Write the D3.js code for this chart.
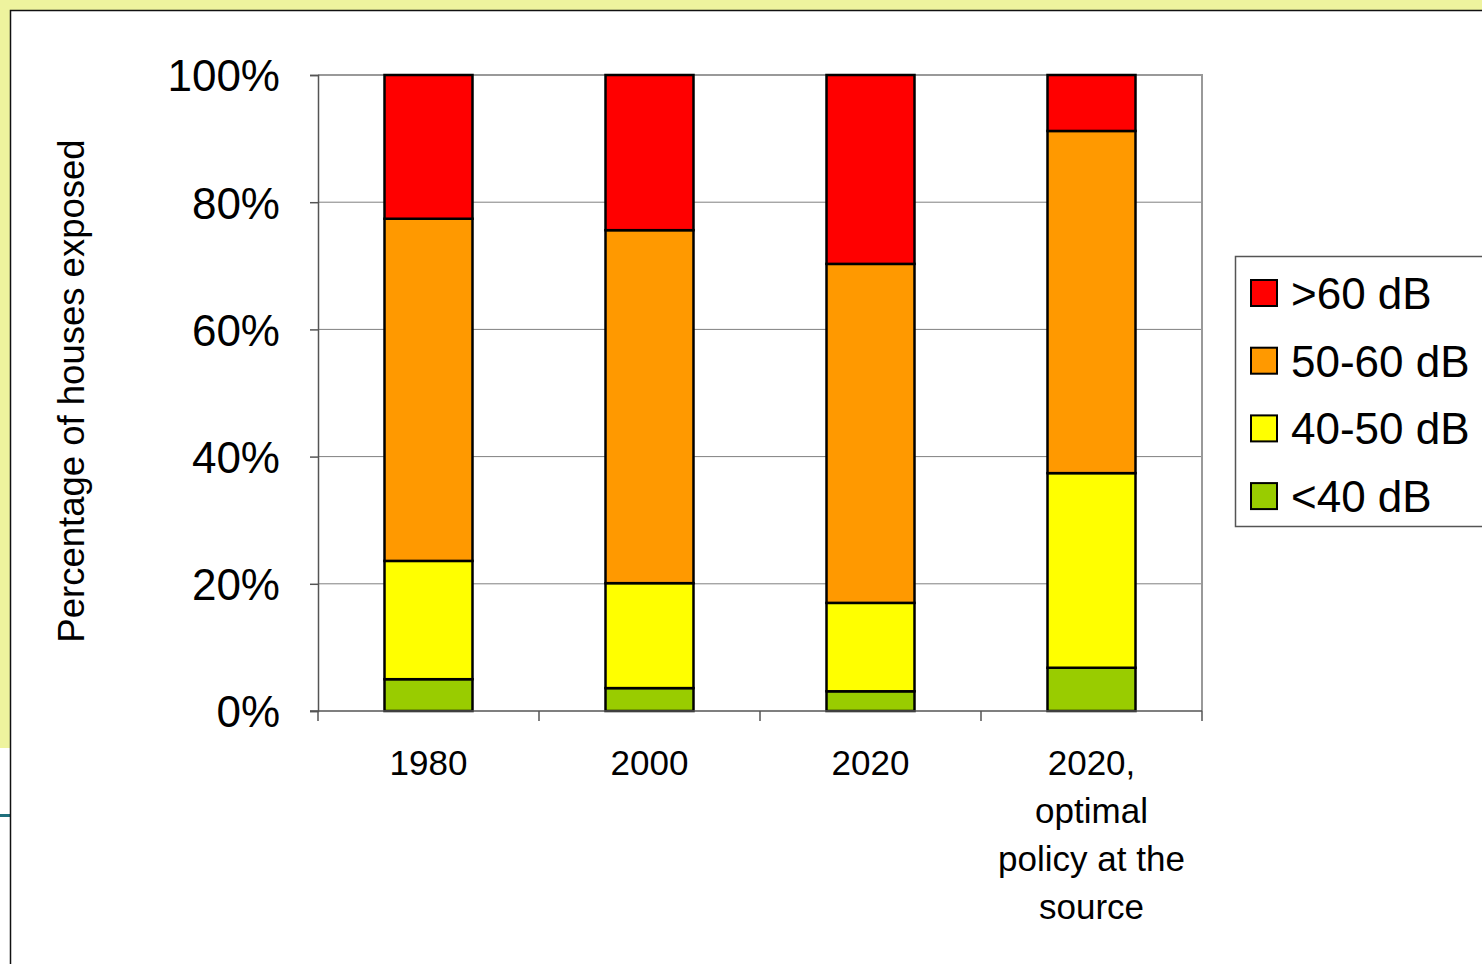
<!DOCTYPE html>
<html>
<head>
<meta charset="utf-8">
<script src="https://cdn.jsdelivr.net/npm/d3@7"></script>
<style>
  body { margin: 0; background: #eef39e; }
  svg { display: block; font-family: "Liberation Sans", Arial, sans-serif; }
</style>
</head>
<body>
<svg id="chart" width="1482" height="964"></svg>
<script>
// categories and stacked values (% of houses), bottom to top
const categories = ["1980", "2000", "2020", "2020, optimal policy at the source"];
const categoryLines = [["1980"], ["2000"], ["2020"], ["2020,", "optimal", "policy at the", "source"]];
const seriesNames = ["<40 dB", "40-50 dB", "50-60 dB", ">60 dB"];
const below40 = [5.0, 3.6, 3.1, 6.8];
const from40to50 = [18.6, 16.5, 13.9, 30.6];
const from50to60 = [53.8, 55.5, 53.3, 53.8];
const above60 = [22.6, 24.4, 29.7, 8.8];
const yTicks = [0, 20, 40, 60, 80, 100];
const colors = ["#99cc00", "#ffff00", "#ff9900", "#ff0000"];

const svg = d3.select("#chart");

// slide background: white panel with dark border
svg.append("rect").attr("x", 0).attr("y", 0).attr("width", 1482).attr("height", 964).attr("fill", "#eef39e");
svg.append("rect").attr("x", 0).attr("y", 748).attr("width", 10).attr("height", 216).attr("fill", "#ffffff");
svg.append("rect").attr("x", 0).attr("y", 814).attr("width", 10).attr("height", 3).attr("fill", "#1f6f7c");
svg.append("rect").attr("x", 10.5).attr("y", 10.5).attr("width", 1480).attr("height", 960)
  .attr("fill", "#ffffff").attr("stroke", "#111").attr("stroke-width", 1.5);

const margin = { left: 318, right: 1202, top: 75, bottom: 711 };

const x = d3.scaleBand().domain(categories).range([margin.left, margin.right]);
const y = d3.scaleLinear().domain([0, 100]).range([margin.bottom, margin.top]);

// gridlines
svg.append("g")
  .selectAll("line")
  .data(yTicks.filter(d => d > 0))
  .join("line")
  .attr("x1", margin.left).attr("x2", margin.right)
  .attr("y1", d => y(d)).attr("y2", d => y(d))
  .attr("stroke", "#808080").attr("stroke-width", 1);

// plot frame top + right
svg.append("path")
  .attr("d", `M${margin.left},${y(100)}H${margin.right}V${y(0)}`)
  .attr("fill", "none").attr("stroke", "#999").attr("stroke-width", 2);

// stacked bars
const rows = categories.map((c, i) => ({
  cat: c,
  "<40 dB": below40[i], "40-50 dB": from40to50[i], "50-60 dB": from50to60[i], ">60 dB": above60[i]
}));
const stacked = d3.stack().keys(seriesNames)(rows);
const barW = 88;

svg.append("g")
  .selectAll("g")
  .data(stacked)
  .join("g")
  .attr("fill", (d, i) => colors[i])
  .selectAll("rect")
  .data(d => d)
  .join("rect")
  .attr("x", d => x(d.data.cat) + x.bandwidth() / 2 - barW / 2)
  .attr("y", d => y(d[1]))
  .attr("width", barW)
  .attr("height", d => y(d[0]) - y(d[1]))
  .attr("stroke", "#000").attr("stroke-width", 2.5);

// y axis
const yAxis = svg.append("g")
  .attr("transform", `translate(${margin.left},0)`)
  .call(d3.axisLeft(y).tickValues(yTicks).tickFormat(d => d + "%").tickSize(8).tickPadding(30));
yAxis.select(".domain").attr("stroke", "#555").attr("stroke-width", 1.5);
yAxis.selectAll(".tick line").attr("stroke", "#555").attr("stroke-width", 1.5);
yAxis.selectAll("text").attr("font-size", 44).attr("fill", "#000")
  .attr("font-family", "'Liberation Sans', Arial, sans-serif").attr("dy", "0.36em");

// x axis
const xAxis = svg.append("g").attr("transform", `translate(0,${margin.bottom})`);
xAxis.append("line").attr("x1", margin.left - 8).attr("x2", margin.right)
  .attr("stroke", "#555").attr("stroke-width", 1.5);
const bounds = categories.map(c => x(c)).concat([margin.right]);
xAxis.selectAll(".xtick")
  .data(bounds)
  .join("line")
  .attr("x1", d => d).attr("x2", d => d)
  .attr("y1", 0).attr("y2", 10)
  .attr("stroke", "#555").attr("stroke-width", 1.5);

const labels = xAxis.selectAll(".xlabel")
  .data(categories)
  .join("text")
  .attr("text-anchor", "middle")
  .attr("font-size", 35)
  .attr("fill", "#000");
labels.each(function(c, i) {
  d3.select(this).selectAll("tspan")
    .data(categoryLines[i])
    .join("tspan")
    .attr("x", x(c) + x.bandwidth() / 2)
    .attr("y", (d, j) => 64 + j * 48)
    .text(d => d);
});

// y axis title
svg.append("text")
  .attr("transform", "translate(84,391) rotate(-90)")
  .attr("text-anchor", "middle")
  .attr("font-size", 36.5)
  .attr("fill", "#000")
  .text("Percentage of houses exposed");

// legend
const legend = svg.append("g");
legend.append("rect")
  .attr("x", 1235.5).attr("y", 256.5).attr("width", 260).attr("height", 270)
  .attr("fill", "#fff").attr("stroke", "#555").attr("stroke-width", 1.5);
const legendOrder = seriesNames.slice().reverse();
const items = legend.selectAll(".item")
  .data(legendOrder)
  .join("g")
  .attr("transform", (d, i) => `translate(1251,${293 + i * 67.7})`);
items.append("rect")
  .attr("x", 0).attr("y", -13).attr("width", 26).attr("height", 26)
  .attr("fill", d => colors[seriesNames.indexOf(d)])
  .attr("stroke", "#000").attr("stroke-width", 2);
items.append("text")
  .attr("x", 40).attr("y", 16)
  .attr("font-size", 44)
  .attr("fill", "#000")
  .text(d => d);
</script>
</body>
</html>
